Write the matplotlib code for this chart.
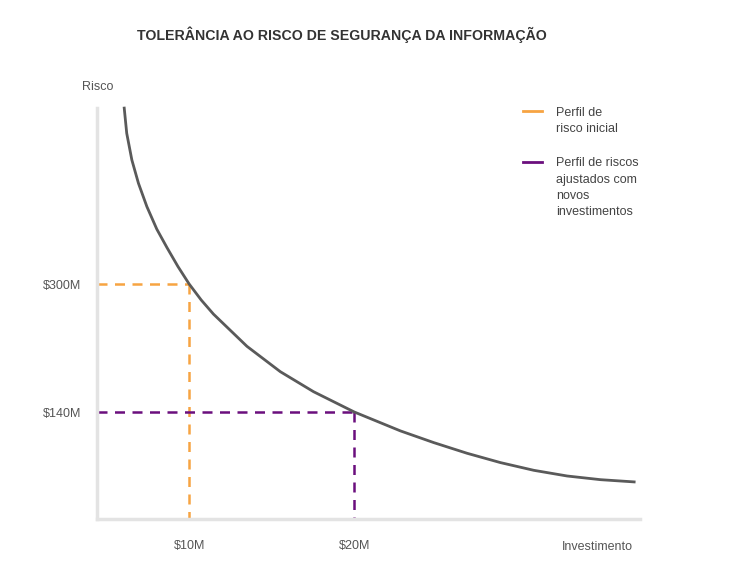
import matplotlib.pyplot as plt

plt.rcParams['font.family'] = ['Liberation Sans', 'DejaVu Sans']

# curve (investment in $M, risk in $M)
investimento = [6.06, 6.22, 6.53, 6.93, 7.44, 8.04, 8.65, 9.32, 10.0, 10.73, 11.47,
                13.50, 15.52, 17.53, 20.0, 22.79, 24.81, 26.83, 28.85, 30.87, 32.89,
                34.91, 37.03]
risco = [521.6, 488.4, 455.1, 425.9, 396.75, 368.6, 345.75, 321.9, 300.0, 280.0, 262.4,
         222.1, 190.4, 165.4, 140.0, 116.4, 101.75, 88.4, 76.75, 67.1, 60.0,
         55.4, 52.5]

# reference points
inicial = (10, 300)
ajustado = (20, 140)

x_ticks = [10, 20]
x_labels = ['$10M', '$20M']
y_ticks = [140, 300]
y_labels = ['$140M', '$300M']

laranja = '#f7a442'
roxo = '#6b0f7d'
cinza = '#5a5a5a'

W, H = 729, 578
fig = plt.figure(figsize=(W / 100, H / 100), dpi=100)
ax = fig.add_axes([97 / W, 1 - 519 / H, (640 - 97) / W, (519 - 105) / H])

ax.set_xlim(4.42, 37.3)
ax.set_ylim(6.25, 523.75)

ax.plot(investimento, risco, color=cinza, lw=2, solid_capstyle='butt',
        solid_joinstyle='round', zorder=3)

x0 = ax.get_xlim()[0]
y0 = ax.get_ylim()[0]
dash = (0, (4, 3))
ax.plot([x0, inicial[0]], [inicial[1], inicial[1]], color=laranja, lw=1.8, linestyle=dash)
ax.plot([inicial[0], inicial[0]], [inicial[1], y0], color=laranja, lw=1.8, linestyle=dash)
ax.plot([x0, ajustado[0]], [ajustado[1], ajustado[1]], color=roxo, lw=1.8, linestyle=dash)
ax.plot([ajustado[0], ajustado[0]], [ajustado[1], y0], color=roxo, lw=1.8, linestyle=dash)

for s in ['top', 'right']:
    ax.spines[s].set_visible(False)
for s in ['left', 'bottom']:
    ax.spines[s].set_color('#e3e3e3')
    ax.spines[s].set_linewidth(2.5)
ax.spines['left'].set_bounds(6.25, 520)

ax.set_xticks(x_ticks)
ax.set_xticklabels(x_labels)
ax.set_yticks(y_ticks)
ax.set_yticklabels(y_labels)
ax.tick_params(axis='x', length=0, pad=15, labelsize=9, labelcolor='#555555')
ax.tick_params(axis='y', length=0, pad=11.5, labelsize=9, labelcolor='#555555')

ax.annotate('Investimento', xy=(34.7, 0), xycoords=ax.get_xaxis_transform(),
            xytext=(0, -15.5), textcoords='offset points', ha='center', va='top',
            fontsize=9, color='#555555')

fig.text(98 / W, 1 - 87 / H, 'Risco', ha='center', va='center', fontsize=9, color='#555555')
fig.text(342 / W, 1 - 35 / H, 'TOLERÂNCIA AO RISCO DE SEGURANÇA DA INFORMAÇÃO',
         ha='center', va='center', fontsize=10.2, fontweight='bold', color='#333333')

# legend drawn by hand
fig.add_artist(plt.Line2D([523 / W, 542 / W], [1 - 111 / H] * 2, color=laranja, lw=2))
fig.add_artist(plt.Line2D([523 / W, 542 / W], [1 - 162 / H] * 2, color=roxo, lw=2))
fig.text(556 / W, 1 - 106.5 / H, 'Perfil de\nrisco inicial', ha='left', va='top',
         fontsize=9, color='#444444', linespacing=1.45)
fig.text(556 / W, 1 - 157.5 / H, 'Perfil de riscos\najustados com\nnovos\ninvestimentos',
         ha='left', va='top', fontsize=9, color='#444444', linespacing=1.45)

fig.savefig('out.png', dpi=100)
